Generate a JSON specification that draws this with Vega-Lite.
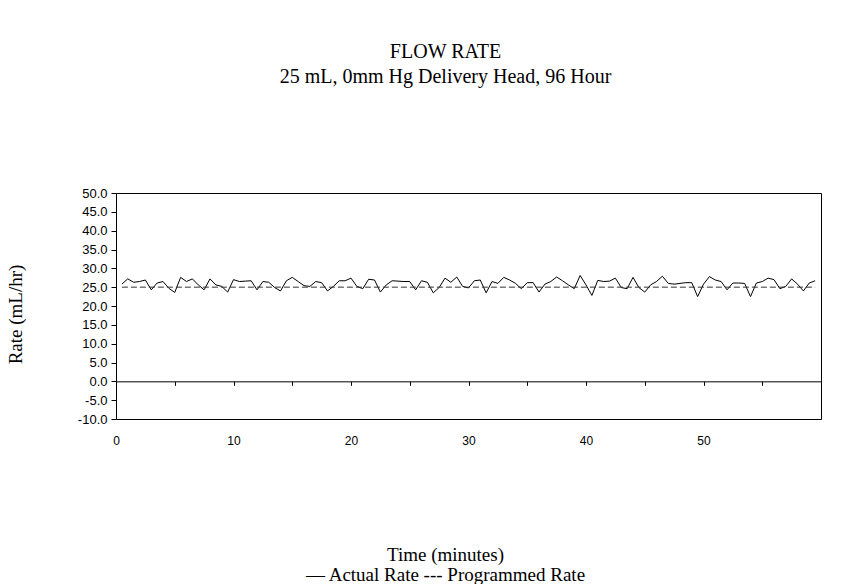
{
  "$schema": "https://vega.github.io/schema/vega-lite/v6.json",
  "width": 705,
  "height": 226,
  "autosize": {"type": "none"},
  "padding": {"left": 116, "top": 193, "right": 28, "bottom": 165},
  "background": "white",
  "title": {
    "text": ["FLOW RATE", "25 mL, 0mm Hg Delivery Head, 96 Hour"],
    "font": "Liberation Serif",
    "fontSize": 20,
    "fontWeight": "normal",
    "color": "black",
    "anchor": "middle",
    "dx": -23,
    "offset": 100,
    "lineHeight": 25
  },
  "datasets": {
    "actual": [
      {"minute": 0.5, "rate": 25.8}, {"minute": 1.0, "rate": 27.2}, {"minute": 1.5, "rate": 26.3}, {"minute": 2.0, "rate": 26.5},
      {"minute": 2.5, "rate": 26.9}, {"minute": 3.0, "rate": 24.3}, {"minute": 3.5, "rate": 26.1}, {"minute": 4.0, "rate": 26.5},
      {"minute": 4.5, "rate": 24.7}, {"minute": 5.0, "rate": 23.6}, {"minute": 5.5, "rate": 27.6}, {"minute": 6.0, "rate": 26.5},
      {"minute": 6.5, "rate": 27.2}, {"minute": 7.0, "rate": 25.6}, {"minute": 7.5, "rate": 24.3}, {"minute": 8.0, "rate": 27.2},
      {"minute": 8.5, "rate": 25.6}, {"minute": 9.0, "rate": 25.2}, {"minute": 9.5, "rate": 23.7}, {"minute": 10.0, "rate": 27.0},
      {"minute": 10.5, "rate": 26.5}, {"minute": 11.0, "rate": 26.6}, {"minute": 11.5, "rate": 26.7}, {"minute": 12.0, "rate": 24.3},
      {"minute": 12.5, "rate": 26.5}, {"minute": 13.0, "rate": 26.3}, {"minute": 13.5, "rate": 24.9}, {"minute": 14.0, "rate": 24.0},
      {"minute": 14.5, "rate": 26.7}, {"minute": 15.0, "rate": 27.6}, {"minute": 15.5, "rate": 26.5}, {"minute": 16.0, "rate": 25.4},
      {"minute": 16.5, "rate": 25.2}, {"minute": 17.0, "rate": 26.5}, {"minute": 17.5, "rate": 26.2}, {"minute": 18.0, "rate": 24.0},
      {"minute": 18.5, "rate": 25.2}, {"minute": 19.0, "rate": 26.7}, {"minute": 19.5, "rate": 26.7}, {"minute": 20.0, "rate": 27.4},
      {"minute": 20.5, "rate": 25.2}, {"minute": 21.0, "rate": 24.6}, {"minute": 21.5, "rate": 27.1}, {"minute": 22.0, "rate": 26.9},
      {"minute": 22.5, "rate": 23.7}, {"minute": 23.0, "rate": 25.6}, {"minute": 23.5, "rate": 26.7}, {"minute": 24.0, "rate": 26.6},
      {"minute": 24.5, "rate": 26.5}, {"minute": 25.0, "rate": 26.5}, {"minute": 25.5, "rate": 24.3}, {"minute": 26.0, "rate": 26.7},
      {"minute": 26.5, "rate": 26.3}, {"minute": 27.0, "rate": 23.5}, {"minute": 27.5, "rate": 24.9}, {"minute": 28.0, "rate": 27.4},
      {"minute": 28.5, "rate": 26.3}, {"minute": 29.0, "rate": 27.7}, {"minute": 29.5, "rate": 25.2}, {"minute": 30.0, "rate": 24.8},
      {"minute": 30.5, "rate": 26.7}, {"minute": 31.0, "rate": 26.9}, {"minute": 31.5, "rate": 23.5}, {"minute": 32.0, "rate": 26.5},
      {"minute": 32.5, "rate": 26.0}, {"minute": 33.0, "rate": 27.6}, {"minute": 33.5, "rate": 26.9}, {"minute": 34.0, "rate": 26.0},
      {"minute": 34.5, "rate": 24.6}, {"minute": 35.0, "rate": 26.2}, {"minute": 35.5, "rate": 26.2}, {"minute": 36.0, "rate": 23.7},
      {"minute": 36.5, "rate": 25.8}, {"minute": 37.0, "rate": 26.5}, {"minute": 37.5, "rate": 27.7}, {"minute": 38.0, "rate": 26.7},
      {"minute": 38.5, "rate": 25.6}, {"minute": 39.0, "rate": 24.6}, {"minute": 39.5, "rate": 28.1}, {"minute": 40.0, "rate": 25.6},
      {"minute": 40.5, "rate": 22.8}, {"minute": 41.0, "rate": 26.8}, {"minute": 41.5, "rate": 26.5}, {"minute": 42.0, "rate": 26.6},
      {"minute": 42.5, "rate": 27.4}, {"minute": 43.0, "rate": 24.9}, {"minute": 43.5, "rate": 24.6}, {"minute": 44.0, "rate": 27.6},
      {"minute": 44.5, "rate": 24.9}, {"minute": 45.0, "rate": 23.7}, {"minute": 45.5, "rate": 25.6}, {"minute": 46.0, "rate": 26.5},
      {"minute": 46.5, "rate": 27.9}, {"minute": 47.0, "rate": 26.0}, {"minute": 47.5, "rate": 25.8}, {"minute": 48.0, "rate": 26.0},
      {"minute": 48.5, "rate": 26.2}, {"minute": 49.0, "rate": 26.2}, {"minute": 49.5, "rate": 22.5}, {"minute": 50.0, "rate": 25.8},
      {"minute": 50.5, "rate": 27.8}, {"minute": 51.0, "rate": 26.9}, {"minute": 51.5, "rate": 26.5}, {"minute": 52.0, "rate": 24.3},
      {"minute": 52.5, "rate": 26.1}, {"minute": 53.0, "rate": 26.1}, {"minute": 53.5, "rate": 26.0}, {"minute": 54.0, "rate": 22.5},
      {"minute": 54.5, "rate": 26.1}, {"minute": 55.0, "rate": 26.5}, {"minute": 55.5, "rate": 27.4}, {"minute": 56.0, "rate": 27.0},
      {"minute": 56.5, "rate": 24.6}, {"minute": 57.0, "rate": 25.2}, {"minute": 57.5, "rate": 27.2}, {"minute": 58.0, "rate": 25.8},
      {"minute": 58.5, "rate": 24.0}, {"minute": 59.0, "rate": 26.1}, {"minute": 59.5, "rate": 26.7}
    ],
    "programmed": [
      {"minute": 0.5, "rate": 25.0},
      {"minute": 59.5, "rate": 25.0}
    ]
  },
  "encoding": {
    "x": {
      "field": "minute",
      "type": "quantitative",
      "scale": {"domain": [0, 60], "nice": false, "zero": false},
      "axis": {
        "values": [0, 5, 10, 15, 20, 25, 30, 35, 40, 45, 50, 55, 60],
        "tickCount": 13,
        "labelExpr": "datum.value % 10 === 0 && datum.value < 60 ? format(datum.value, 'd') : ''",
        "grid": false,
        "offset": -37.67,
        "domainColor": "black",
        "tickColor": "black",
        "tickSize": 4,
        "labelPadding": 50,
        "labelFont": "Liberation Sans",
        "labelFontSize": 12,
        "labelColor": "black",
        "labelFlush": false,
        "labelOverlap": false,
        "title": ["Time (minutes)", "— Actual Rate --- Programmed Rate"],
        "titleFont": "Liberation Serif",
        "titleFontSize": 19,
        "titleFontWeight": "normal",
        "titleColor": "black",
        "titleX": 329,
        "titleY": 164,
        "titleAlign": "center",
        "titleBaseline": "top",
        "titleLineHeight": 20
      }
    },
    "y": {
      "field": "rate",
      "type": "quantitative",
      "scale": {"domain": [-10, 50], "nice": false, "zero": false},
      "axis": {
        "values": [-10, -5, 0, 5, 10, 15, 20, 25, 30, 35, 40, 45, 50],
        "tickCount": 13,
        "labelExpr": "datum.value < 0 ? '-' + format(-datum.value, '.1f') : format(datum.value, '.1f')",
        "grid": false,
        "domainColor": "black",
        "tickColor": "black",
        "tickSize": 5,
        "labelPadding": 4,
        "labelFont": "Liberation Sans",
        "labelFontSize": 13,
        "labelColor": "black",
        "labelOverlap": false,
        "title": "Rate (mL/hr)",
        "titleFont": "Liberation Serif",
        "titleFontSize": 19,
        "titleFontWeight": "normal",
        "titleColor": "black",
        "titleX": -101,
        "titleY": 121,
        "titleAlign": "center",
        "titleBaseline": "middle"
      }
    }
  },
  "layer": [
    {
      "data": {"name": "actual"},
      "mark": {"type": "line", "color": "black", "strokeWidth": 1}
    },
    {
      "data": {"name": "programmed"},
      "mark": {"type": "line", "color": "#333333", "strokeWidth": 1, "strokeDash": [6, 3]}
    }
  ],
  "config": {
    "view": {"stroke": "black", "strokeWidth": 1}
  }
}
